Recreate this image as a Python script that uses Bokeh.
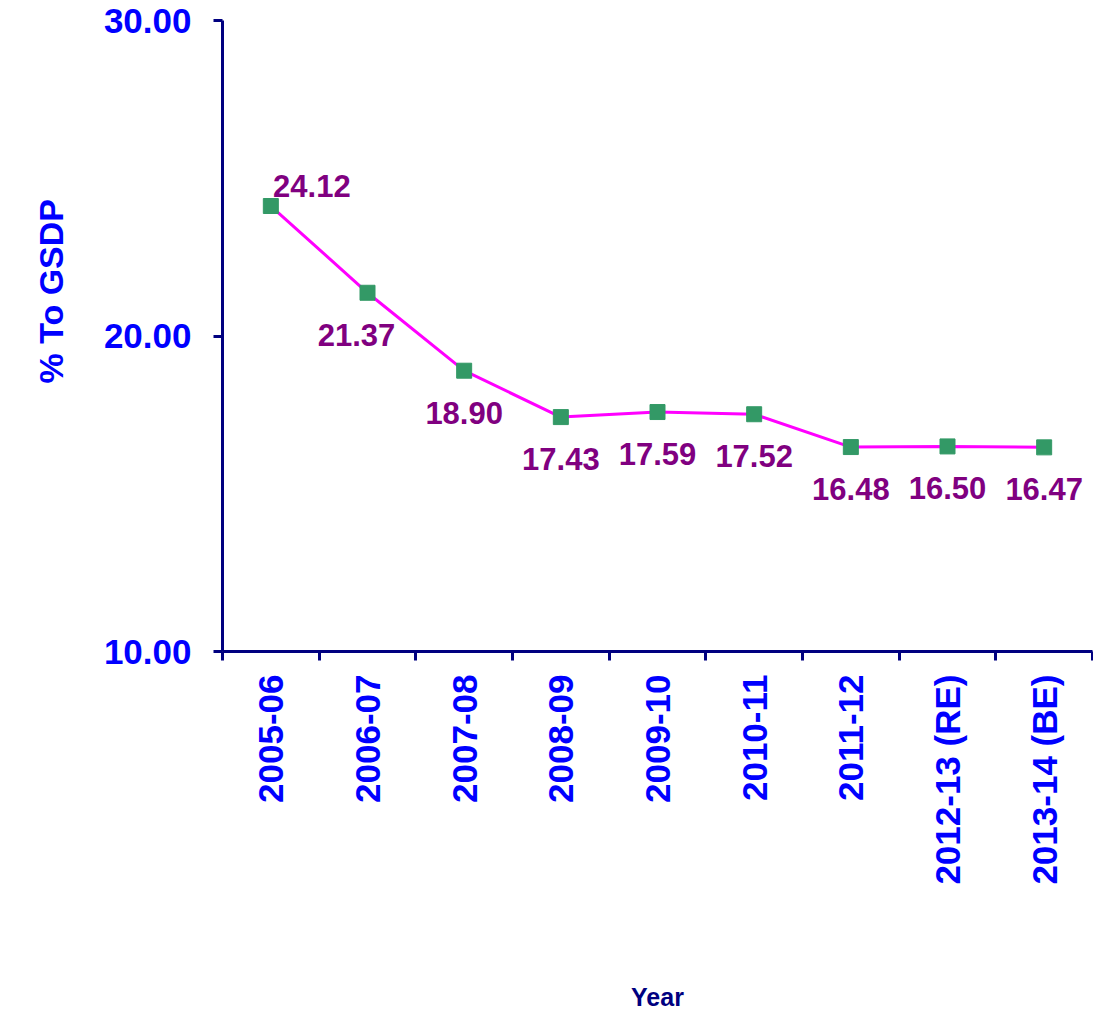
from bokeh.plotting import figure
from bokeh.models import ColumnDataSource, Range1d, FixedTicker, NumeralTickFormatter, Title
from bokeh.core.properties import value
from bokeh.embed import file_html
from bokeh.resources import INLINE
import numpy as np
import math

years = ["2005-06", "2006-07", "2007-08", "2008-09", "2009-10", "2010-11",
         "2011-12", "2012-13 (RE)", "2013-14 (BE)"]
pct_gsdp = [24.12, 21.37, 18.90, 17.43, 17.59, 17.52, 16.48, 16.50, 16.47]
y_ticks = [10, 20, 30]

n = len(years)
xpos = np.arange(n) + 0.5
label_dx = [41, -11, 0, 0, 0, 0, 0, 0, 0]
label_dy = [-20, 42, 42, 42, 42, 42, 42, 42, 42]

src = ColumnDataSource(dict(
    x=xpos, y=pct_gsdp, lab=["%.2f" % v for v in pct_gsdp],
    dx=label_dx, dy=label_dy))

FONT = "Liberation Sans"
p = figure(width=1093, height=1019, output_backend="svg", toolbar_location=None,
           x_range=Range1d(0, n), y_range=Range1d(10, 30),
           min_border_left=222, min_border_right=1, min_border_top=20,
           min_border_bottom=368)
p.outline_line_color = None
p.xgrid.grid_line_color = None
p.ygrid.grid_line_color = None

p.line("x", "y", source=src, line_color="#FF00FF", line_width=3)
p.scatter("x", "y", source=src, marker="square", size=15,
          fill_color="#339966", line_color="#339966")
p.text("x", "y", text="lab", source=src, x_offset="dx", y_offset="dy",
       text_align="center", text_baseline="middle",
       text_font=value(FONT), text_font_style="bold",
       text_font_size="31px", text_color="#800080")

# x axis
xa = p.xaxis[0]
xa.ticker = FixedTicker(ticks=list(xpos), minor_ticks=list(np.arange(n + 1)))
xa.major_label_overrides = {float(x): y for x, y in zip(xpos, years)}
xa.major_label_orientation = math.pi / 2
xa.major_tick_out = 0
xa.major_tick_in = 0
xa.minor_tick_out = 9
xa.minor_tick_in = 0
xa.minor_tick_line_color = "#000080"
xa.minor_tick_line_width = 3
xa.axis_line_color = "#000080"
xa.axis_line_width = 3
xa.major_label_standoff = 14
xa.major_label_text_font = FONT
xa.major_label_text_font_style = "bold"
xa.major_label_text_font_size = "35px"
xa.major_label_text_color = "#0000FF"
xa.axis_label = "Year"
xa.axis_label_text_font = FONT
xa.axis_label_text_font_style = "bold"
xa.axis_label_text_font_size = "25px"
xa.axis_label_text_color = "#000080"
xa.axis_label_standoff = 95

# y axis
ya = p.yaxis[0]
ya.ticker = FixedTicker(ticks=y_ticks, minor_ticks=[])
ya.formatter = NumeralTickFormatter(format="0.00")
ya.major_tick_out = 9
ya.major_tick_in = 0
ya.major_tick_line_color = "#000080"
ya.major_tick_line_width = 3
ya.minor_tick_line_color = None
ya.axis_line_color = "#000080"
ya.axis_line_width = 3
ya.major_label_standoff = 22
ya.major_label_text_font = FONT
ya.major_label_text_font_style = "bold"
ya.major_label_text_font_size = "35px"
ya.major_label_text_color = "#0000FF"

# y axis title, placed higher than centre as in the original
ytitle = Title(text="% To GSDP", align="left", offset=268, standoff=58,
               vertical_align="top",
               text_font=FONT, text_font_style="bold",
               text_font_size="34px", text_color="#0000FF")
p.add_layout(ytitle, "left")

open("out.html", "w").write(file_html(p, INLINE))
